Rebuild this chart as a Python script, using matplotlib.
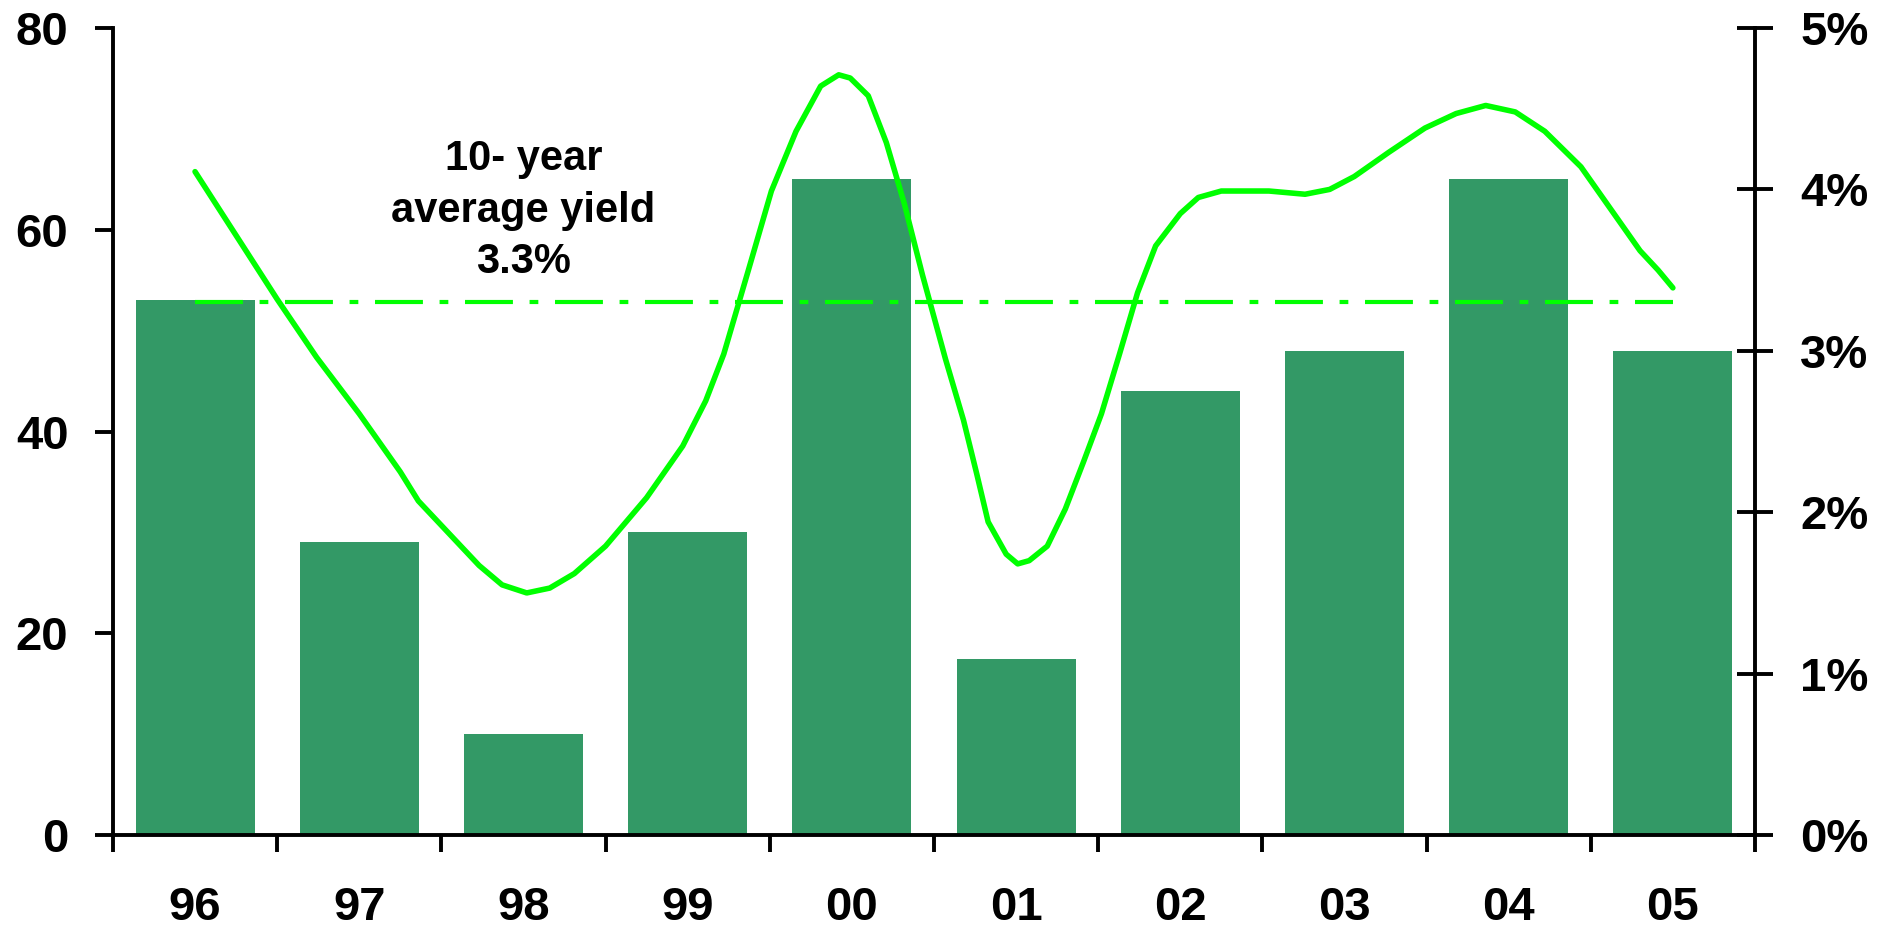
import matplotlib
matplotlib.use("Agg")
import matplotlib.pyplot as plt
from matplotlib.ticker import FixedLocator, NullFormatter

plt.rcParams['font.family'] = ['Liberation Sans', 'DejaVu Sans']
plt.rcParams['font.weight'] = 'bold'

# ---- data ----
years = ["96", "97", "98", "99", "00", "01", "02", "03", "04", "05"]
bar_values = [53, 29, 10, 30, 65, 17.5, 44, 48, 65, 48]

yield_x = [0.00, 0.50, 0.74, 1.00, 1.25, 1.36, 1.73, 1.87, 2.02, 2.16, 2.31, 2.50,
           2.75, 2.97, 3.11, 3.22, 3.37, 3.51, 3.66, 3.81, 3.92, 3.99, 4.10, 4.21,
           4.32, 4.43, 4.57, 4.68, 4.76, 4.83, 4.94, 5.01, 5.08, 5.19, 5.30, 5.41,
           5.52, 5.63, 5.74, 5.85, 6.00, 6.11, 6.25, 6.54, 6.76, 6.91, 7.06, 7.27,
           7.49, 7.68, 7.86, 8.04, 8.22, 8.44, 8.62, 8.80, 8.91, 9.00]
yield_pct = [4.11, 3.32, 2.96, 2.61, 2.25, 2.07, 1.67, 1.55, 1.50, 1.53, 1.62, 1.79,
             2.09, 2.41, 2.69, 2.98, 3.50, 3.99, 4.36, 4.64, 4.71, 4.69, 4.58, 4.29,
             3.91, 3.47, 2.95, 2.57, 2.24, 1.94, 1.74, 1.68, 1.70, 1.79, 2.02, 2.31,
             2.61, 2.98, 3.36, 3.65, 3.85, 3.95, 3.99, 3.99, 3.97, 4.00, 4.08, 4.23,
             4.38, 4.47, 4.52, 4.48, 4.36, 4.14, 3.88, 3.62, 3.50, 3.39]
avg_yield = 3.3
left_ticks = [0, 20, 40, 60, 80]
right_ticks = [0, 1, 2, 3, 4, 5]
right_labels = ["0%", "1%", "2%", "3%", "4%", "5%"]
annotation_lines = ["10- year", "average yield", "3.3%"]

bar_color = "#339966"
line_color = "#00FF00"

fig = plt.figure(figsize=(18.79, 9.27), dpi=100)
ax = fig.add_axes([0.0601, 0.0992, 0.8739, 0.8706])
ax2 = ax.twinx()

xs = list(range(len(years)))
ax.bar(xs, bar_values, width=0.725, color=bar_color, zorder=2)

ax.set_xlim(-0.5, len(years) - 0.5)
ax.set_ylim(0, 80)
ax2.set_ylim(0, 5)

ax2.plot([0, len(years) - 1], [avg_yield, avg_yield], color=line_color, lw=3,
         dashes=(11.5, 4, 2.1, 4), dash_capstyle='butt', zorder=3)
ax2.plot(yield_x, yield_pct, color=line_color, lw=4, solid_capstyle='round',
         solid_joinstyle='round', zorder=4)

# annotation: baselines of the three lines (left-axis units)
first_baseline = 65.9
line_step = 5.1
for i, line in enumerate(annotation_lines):
    ax.text(2.0, first_baseline - i * line_step, line, ha='center', va='baseline',
            fontsize=30, fontweight='bold', zorder=5)

for a in (ax, ax2):
    a.spines['top'].set_visible(False)
    for s in a.spines.values():
        s.set_linewidth(2.8)
ax.spines['right'].set_visible(False)
ax2.spines['left'].set_visible(False)
ax2.spines['bottom'].set_visible(False)

ax.xaxis.set_major_locator(FixedLocator([i - 0.5 for i in range(len(years) + 1)]))
ax.xaxis.set_major_formatter(NullFormatter())
ax.xaxis.set_minor_locator(FixedLocator(xs))
ax.set_xticklabels(years, minor=True)
ax.tick_params(axis='x', which='major', direction='out', length=12.5, width=2.8)
ax.tick_params(axis='x', which='minor', length=0, pad=37, labelsize=34)

ax.set_yticks(left_ticks)
ax.tick_params(axis='y', direction='out', length=13, width=2.8, labelsize=34, pad=19)

ax2.set_yticks(right_ticks)
ax2.set_yticklabels(right_labels)
ax2.tick_params(axis='y', direction='inout', length=26, width=2.8, labelsize=34, pad=19.5)

for lbl in ax.get_xticklabels(minor=True) + ax.get_yticklabels() + ax2.get_yticklabels():
    lbl.set_fontweight('bold')

fig.savefig("out.png", dpi=100)
